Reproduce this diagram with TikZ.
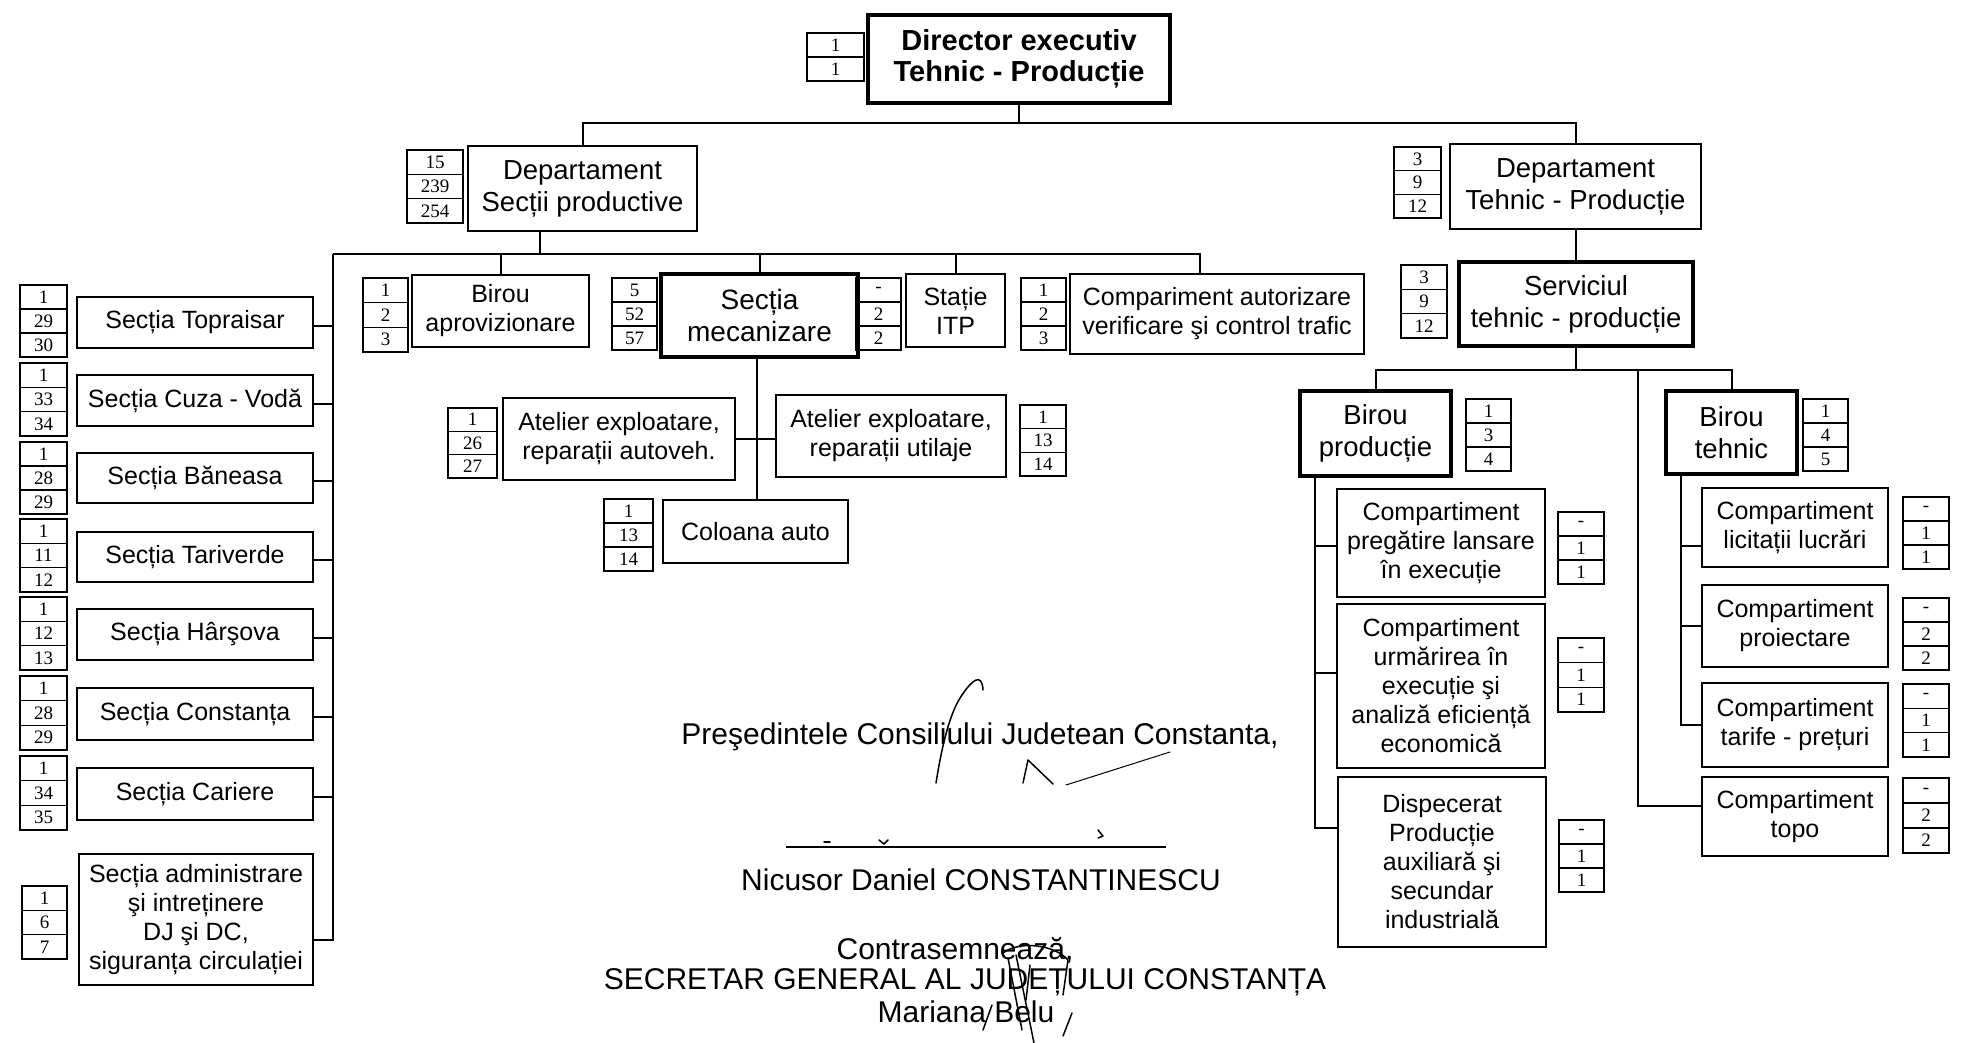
\documentclass[tikz,border=0pt]{standalone}
\usepackage{fontspec}
\setmainfont{Liberation Sans}
\newfontfamily\numf{Liberation Serif}
\begin{document}
\begin{tikzpicture}[x=1pt,y=-1pt,
  box/.style={draw, line width=2pt, inner sep=0pt, outer sep=0pt, align=center, font=\fontsize{25}{29}\selectfont},
  heavy/.style={line width=3.5pt},
  big/.style={font=\fontsize{27.5}{32}\selectfont},
  bold/.style={font=\bfseries\fontsize{29}{31}\selectfont},
  cell/.style={draw, line width=1.5pt, inner sep=0pt, outer sep=0pt, font=\numf\fontsize{19}{19}\selectfont},
  conn/.style={line width=2pt},
  sig/.style={font=\fontsize{30}{34}\selectfont, inner sep=0pt},
  stroke/.style={line width=1.5pt, line cap=round, line join=round}]
\newcommand\bx[7][]{%
  \pgfmathsetmacro\bw{#5-#3}\pgfmathsetmacro\bh{#6-#4}%
  \node[box,#1,minimum width=\bw pt,minimum height=\bh pt] (#2) at ({(#3+#5)/2},{(#4+#6)/2}) {#7};}
\newcommand\cnt[8]{%
  \pgfmathsetmacro\cw{#4-#2}\pgfmathsetmacro\ch{(#5-#3)/3}\pgfmathsetmacro\cx{(#2+#4)/2}%
  \node[cell,minimum width=\cw pt,minimum height=\ch pt] (#1a) at (\cx,{#3+\ch/2}) {#6};
  \node[cell,minimum width=\cw pt,minimum height=\ch pt] (#1b) at (\cx,{#3+1.5*\ch}) {#7};
  \node[cell,minimum width=\cw pt,minimum height=\ch pt] (#1c) at (\cx,{#3+2.5*\ch}) {#8};}
\fill[white] (0,0) rectangle (1962,1043);
\useasboundingbox (0,0) rectangle (1962,1043);

% Director
\bx[heavy,bold]{dir}{868}{15}{1170}{103}{Director executiv\\Tehnic - Producție}
\node[cell,minimum width=57pt,minimum height=24pt] (dirn1) at (835.5,45) {1};
\node[cell,minimum width=57pt,minimum height=24pt] (dirn2) at (835.5,69) {1};

% Departments
\bx[big]{ds}{468}{146}{697}{231}{Departament\\Secții productive}
\cnt{dsn}{407}{150}{463}{223}{15}{239}{254}
\bx[big]{dt}{1450}{144}{1701}{229}{Departament\\Tehnic - Producție}
\cnt{dtn}{1394}{147}{1441}{218}{3}{9}{12}

% Serviciul
\bx[heavy,big]{st}{1459}{262}{1693}{346}{Serviciul\\tehnic - producție}
\cnt{stn}{1401}{265}{1447}{338}{3}{9}{12}

% Birouri
\bx[heavy,big]{bp}{1300}{391}{1451}{476}{Birou\\producție}
\cnt{bpn}{1466}{399}{1511}{471}{1}{3}{4}
\bx[heavy,big]{bt}{1666}{391}{1797}{474}{Birou\\tehnic}
\cnt{btn}{1803}{399}{1848}{471}{1}{4}{5}

% Birou productie children
\bx{c1}{1337}{489}{1545}{597}{Compartiment\\pregătire lansare\\în execuție}
\cnt{c1n}{1558}{512}{1604}{584}{-}{1}{1}
\bx{c2}{1337}{604}{1545}{768}{Compartiment\\urmărirea în\\execuție şi\\analiză eficiență\\economică}
\cnt{c2n}{1558}{638}{1604}{712}{-}{1}{1}
\bx{c3}{1338}{777}{1546}{947}{Dispecerat\\Producție\\auxiliară şi\\secundar\\industrială}
\cnt{c3n}{1559}{820}{1604}{892}{-}{1}{1}

% Birou tehnic children
\bx{t1}{1702}{488}{1888}{567}{Compartiment\\licitații lucrări}
\cnt{t1n}{1903}{497}{1949}{569}{-}{1}{1}
\bx{t2}{1702}{585}{1888}{667}{Compartiment\\proiectare}
\cnt{t2n}{1903}{598}{1949}{670}{-}{2}{2}
\bx{t3}{1702}{683}{1888}{767}{Compartiment\\tarife - prețuri}
\cnt{t3n}{1903}{684}{1949}{757}{-}{1}{1}
\bx{t4}{1702}{777}{1888}{856}{Compartiment\\topo}
\cnt{t4n}{1903}{778}{1949}{853}{-}{2}{2}

% Row under Departament Sectii
\bx{ba}{412}{275}{589}{347}{Birou\\aprovizionare}
\cnt{ban}{363}{278}{408}{352}{1}{2}{3}
\bx[heavy,font=\fontsize{28}{32}\selectfont]{sm}{661}{274}{858}{357}{Secția\\mecanizare}
\cnt{smn}{612}{278}{657}{350}{5}{52}{57}
\bx{itp}{906}{274}{1005}{347}{Stație\\ITP}
\cnt{itpn}{856}{278}{901}{350}{-}{2}{2}
\bx{ca}{1070}{274}{1364}{354}{Compariment autorizare\\verificare şi control trafic}
\cnt{can}{1021}{278}{1066}{350}{1}{2}{3}

% Mecanizare children
\bx{aa}{503}{398}{735}{480}{Atelier exploatare,\\reparații autoveh.}
\cnt{aan}{448}{408}{497}{478}{1}{26}{27}
\bx{au}{776}{395}{1006}{477}{Atelier exploatare,\\reparații utilaje}
\cnt{aun}{1020}{405}{1066}{476}{1}{13}{14}
\bx{co}{663}{500}{848}{563}{Coloana auto}
\cnt{con}{604}{499}{653}{571}{1}{13}{14}

% Sections
\bx{s1}{77}{297}{313}{348}{Secția Topraisar}
\cnt{s1n}{20}{285}{67}{357}{1}{29}{30}
\bx{s2}{77}{375}{313}{426}{Secția Cuza - Vodă}
\cnt{s2n}{20}{363}{67}{436}{1}{33}{34}
\bx{s3}{77}{453}{313}{503}{Secția Băneasa}
\cnt{s3n}{20}{442}{67}{514}{1}{28}{29}
\bx{s4}{77}{532}{313}{582}{Secția Tariverde}
\cnt{s4n}{20}{519}{67}{592}{1}{11}{12}
\bx{s5}{77}{609}{313}{660}{Secția Hârşova}
\cnt{s5n}{20}{597}{67}{670}{1}{12}{13}
\bx{s6}{77}{688}{313}{740}{Secția Constanța}
\cnt{s6n}{20}{676}{67}{750}{1}{28}{29}
\bx{s7}{77}{768}{313}{820}{Secția Cariere}
\cnt{s7n}{20}{756}{67}{830}{1}{34}{35}
\bx{s8}{79}{854}{313}{985}{Secția administrare\\şi intreținere\\DJ şi DC,\\siguranța circulației}
\cnt{s8n}{22}{886}{67}{959}{1}{6}{7}

% ---- connectors ----
\coordinate (b1) at (0,123);
\draw[conn] (dir.south) -- (dir.south |- b1);
\draw[conn] (ds.north) |- (dt.north |- b1) -- (dt.north);

\coordinate (b2) at (540,254);
\coordinate (vL) at (333,254);
\coordinate (caT) at (1200,254);
\draw[conn] (ds.south -| b2) -- (b2);
\draw[conn] (vL) -- (caT) -- (ca.north -| caT);
\draw[conn] (ba.north) -- (ba.north |- b2);
\draw[conn] (sm.north) -- (sm.north |- b2);
\draw[conn] (itp.north) -- (itp.north |- b2);
\draw[conn] (vL) |- ([yshift=-20pt]s8.east);
\foreach \i in {1,...,7}{\draw[conn] ([yshift=-3pt]s\i.east) -- ++(20,0);}

\coordinate (mv) at (757,0);
\draw[conn] (sm.south -| mv) -- (co.north -| mv);
\draw[conn] (aa.east) -- (aa.east -| au.west);

\draw[conn] (dt.south) -- (st.north -| dt.south);
\coordinate (b3) at (0,370);
\draw[conn] (st.south) -- (st.south |- b3);
\draw[conn] (bp.north) |- (bt.north |- b3) -- (bt.north);
\coordinate (tv) at (1638,370);
\draw[conn] (tv) |- ([yshift=11pt]t4.west);

\coordinate (pv) at (1315,0);
\draw[conn] (bp.south -| pv) |- ([yshift=34pt]c3.west);
\draw[conn] ([yshift=-3pt]c1.west) -- ++(-22,0);
\draw[conn] ([yshift=13pt]c2.west) -- ++(-22,0);

\coordinate (tw) at (1681,0);
\draw[conn] (bt.south -| tw) |- (t3.west);
\draw[conn] ([yshift=-18pt]t1.west) -- ++(-21,0);
\draw[conn] (t2.west) -- ++(-21,0);

% ---- signatures block ----
\node[sig] (pres) at (980,737) {Preşedintele Consiliului Judetean Constanta,};
\node[sig] (nume) at (981,880) {Nicusor Daniel CONSTANTINESCU};
\coordinate (sl) at (786,847);
\draw[line width=1.3pt] (sl) -- ++(380,0);
\node[sig] (contra) at (955,950) {Contrasemnează,};
\node[sig] (secr) at (965,982) {SECRETAR GENERAL AL JUDEȚULUI CONSTANȚA};
\node[sig] (mb) at (966,1012) {Mariana Belu};

% handwritten strokes
\draw[stroke] (936,783) .. controls (942,745) and (950,712) .. (962,695) .. controls (972,680) and (982,672) .. (983,690);
\draw[stroke] (1023,783) -- (1028,760) -- (1053,784);
\draw[stroke,line width=1pt] (1066,785) -- (1170,752);
\draw[stroke] (1098,830) -- (1103,836) -- (1098,838);
\draw[stroke] (824,842) -- (830,842);
\draw[stroke] (879,840) -- (884,844) -- (888,840);
\draw[stroke] (1003,953) .. controls (1020,940) and (1055,945) .. (1068,960) -- (1063,995);
\draw[stroke] (1008,958) -- (1022,1030);
\draw[stroke] (1016,955) -- (1034,1043);
\draw[stroke] (1030,965) -- (1026,1000);
\draw[stroke] (983,1030) -- (992,1005);
\draw[stroke] (1063,1036) -- (1072,1013);
\end{tikzpicture}
\end{document}
